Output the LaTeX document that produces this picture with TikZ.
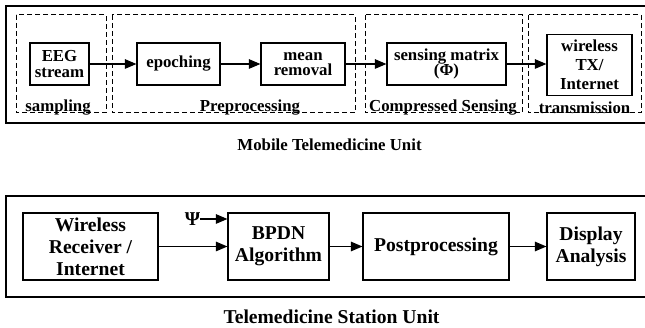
\documentclass[tikz,border=0pt]{standalone}
\usepackage{fontspec}
\setmainfont{Liberation Serif}
\usetikzlibrary{arrows.meta}

\tikzset{
  topfont/.style={font=\fontsize{16.8}{15.5}\selectfont\bfseries},
  botfont/.style={font=\fontsize{19.6}{22}\selectfont\bfseries},
  blk/.style={draw, line width=1.2pt, inner sep=0pt, align=center},
  stage/.style={draw, line width=1pt, dash pattern=on 5pt off 3pt},
  unitframe/.style={draw, line width=1.5pt},
  flow/.style={-{Triangle[length=11.5pt,width=9.5pt]}, line width=1.1pt},
}

\begin{document}
\begin{tikzpicture}[x=1pt,y=-1pt]
\useasboundingbox (0,0) rectangle (645,328);

% ---------- mobile unit ----------
\draw[unitframe] (646,6) -- (6,6) -- (6,123) -- (646,123);

\draw[stage] (16,15) rectangle (106,113);
\draw[stage] (112,15) rectangle (355,113);
\draw[stage] (365,15) rectangle (522,113);
\draw[stage] (528,15) rectangle (641,113);

\node[topfont] (lsamp) at (58,107.5) {sampling};
\node[topfont] (lpre)  at (250,107.5) {Preprocessing};
\node[topfont] (lcs)   at (443,107.5) {Compressed Sensing};
\node[topfont] (ltx)   at (584.5,108) {transmission};

\node[blk, topfont, minimum width=59pt, minimum height=42pt] (eeg) at (59.5,64) {EEG\\stream};
\node[blk, topfont, minimum width=83pt, minimum height=42pt] (epo) at (178.5,64) {epoching};
\node[blk, topfont, minimum width=84pt, minimum height=42pt] (mean) at (303,64) {mean\\removal};
\node[blk, topfont, minimum width=119pt, minimum height=42pt] (sens) at (446.5,64) {sensing matrix\\(Φ)};
\node[blk, font=\fontsize{16.8}{19}\selectfont\bfseries, minimum width=85pt, minimum height=61pt] (wtx) at (589.5,65) {wireless\\TX/\\Internet};

\draw[flow] (eeg) -- (epo);
\draw[flow] (epo) -- (mean);
\draw[flow] (mean) -- (sens);
\draw[flow] (sens.east) -- (sens.east -| wtx.west);

\node[topfont] (mtitle) at (329.5,145) {Mobile Telemedicine Unit};

% ---------- station unit ----------
\draw[unitframe] (646,196) -- (6,196) -- (6,297) -- (646,297);

\node[blk, botfont, minimum width=135pt, minimum height=67pt] (rx) at (90.5,246.5) {Wireless\\Receiver /\\Internet};
\node[blk, botfont, minimum width=101pt, minimum height=67pt] (bp) at (278.5,246.5) {BPDN\\Algorithm};
\node[blk, botfont, minimum width=146pt, minimum height=67pt] (pp) at (436,246.5) {Postprocessing};
\node[blk, botfont, minimum width=88pt, minimum height=67pt] (da) at (591,246.5) {Display\\Analysis};

\node[botfont, inner sep=0pt] (psi) at (192.5,219) {Ψ};
\draw[flow] (psi.east) -- (psi.east -| bp.west);

\draw[flow] (rx) -- (bp);
\draw[flow] (bp) -- (pp);
\draw[flow] (pp) -- (da);

\node[botfont] (stitle) at (331.5,317) {Telemedicine Station Unit};
\end{tikzpicture}
\end{document}
